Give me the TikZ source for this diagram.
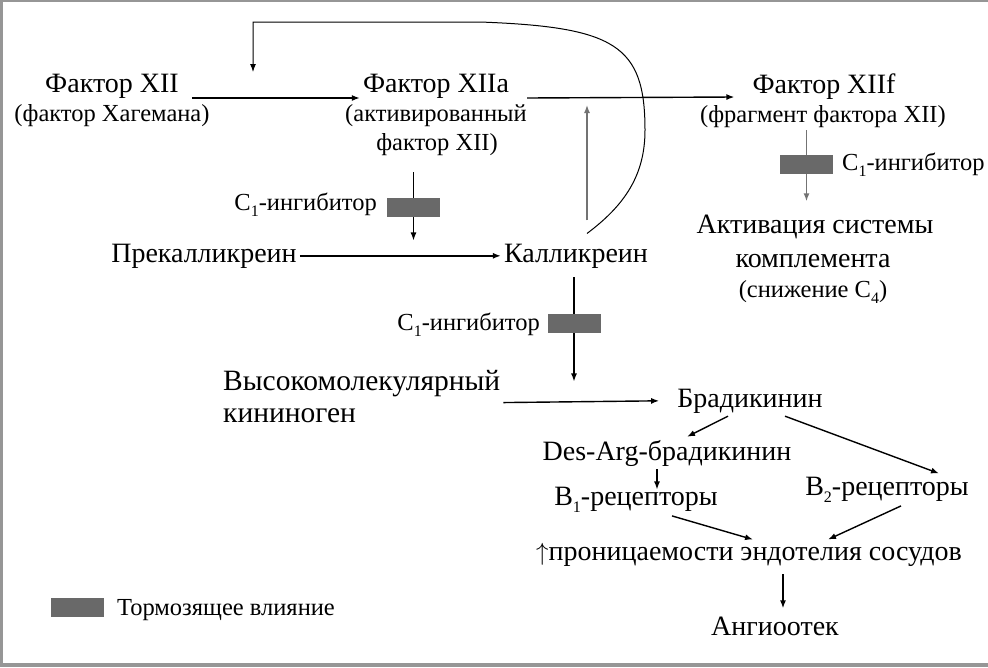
\documentclass[tikz,border=0pt]{standalone}
\usepackage{fontspec}
\setmainfont{Liberation Serif}
\usetikzlibrary{arrows.meta,positioning,calc}
\definecolor{blockgray}{RGB}{105,105,105}
\definecolor{framegray}{RGB}{150,150,150}
\pgfdeclarelayer{bg}
\pgfsetlayers{bg,main}
\newcommand{\lowidx}[1]{\raisebox{-0.6ex}{\fontsize{16}{16}\selectfont #1}}
\tikzset{
  lbl/.style={inner sep=3pt, anchor=base, font=\fontsize{28}{32}\selectfont},
  sublbl/.style={inner sep=3pt, anchor=base, font=\fontsize{24.5}{28}\selectfont},
  blocker/.style={fill=blockgray, minimum width=53pt, minimum height=19pt, inner sep=0pt},
  arr/.style={line width=1.4pt, -{Latex[length=8pt,width=6pt]}},
  grayarr/.style={arr, draw=black!55},
}

\begin{document}
\begin{tikzpicture}[x=1pt,y=-1pt]
    % frame
    \useasboundingbox (0,0) rectangle (988,667);
    \fill[framegray] (0,0) rectangle (3,667);
    \fill[framegray] (0,0) rectangle (988,1.5);
    \fill[framegray] (0,663) rectangle (988,667);

    % factor XII chain
    \node[lbl] (f12) at (112,92) {Фактор XII};
    \node[sublbl] (f12sub) at (112,121) {(фактор Хагемана)};
    \node[lbl] (f12a) at (436,92) {Фактор XIIa};
    \node[sublbl] (f12asub) at (436,121) {(активированный};
    \node[sublbl] (f12asub2) at (437,150) {фактор XII)};
    \node[lbl] (f12f) at (824,93) {Фактор XIIf};
    \node[sublbl] (f12fsub) at (823,122) {(фрагмент фактора XII)};
    \node[lbl] (act) at (815,233) {Активация системы};
    \node[lbl] (act2) at (813,267) {комплемента};
    \node[sublbl] (act3) at (813,297) {(снижение C\lowidx{4})};

    % kallikrein chain
    \node[lbl] (prekal) at (204,262) {Прекалликреин};
    \node[lbl] (kal) at (576,262) {Калликреин};
    \node[lbl, anchor=base west, font=\fontsize{29.5}{32}\selectfont] (hmwk) at (220,390) {Высокомолекулярный};
    \node[lbl, anchor=base west, font=\fontsize{29.5}{32}\selectfont] (hmwk2) at (220,422) {кининоген};
    \node[lbl] (brad) at (750,407) {Брадикинин};
    \node[lbl] (desarg) at (667,460) {Des-Arg-брадикинин};
    \node[lbl] (b1) at (636,505) {B\lowidx{1}-рецепторы};
    \node[lbl] (b2) at (887,495) {B\lowidx{2}-рецепторы};
    \node[lbl] (perm) at (749,560) {$\uparrow$проницаемости эндотелия сосудов};
    \node[lbl] (angio) at (775,635) {Ангиоотек};

    % inhibitors
    \node[blocker] (blk1) at (413.5,207.5) {};
    \node[sublbl, anchor=base east] (inh1) at (380,210) {C\lowidx{1}-ингибитор};
    \node[blocker] (blk2) at (574,323) {};
    \node[sublbl, anchor=base east] (inh2) at (543,330) {C\lowidx{1}-ингибитор};
    \node[blocker] (blk3) at (806.5,164) {};
    \node[sublbl, anchor=base west] (inh3) at (839,170) {C\lowidx{1}-ингибитор};

    % legend
    \node[blocker] (legblk) at (77,607.5) {};
    \node[sublbl, anchor=base west] (legtxt) at (114,615) {Тормозящее влияние};

    \coordinate (fb) at (253,72);
    \coordinate (hit) at (587,105);

    \draw[arr] ([xshift=10pt,yshift=-6pt]f12.base east) -- ([yshift=-6pt]f12a.base west);
    \draw[arr] ([xshift=15pt,yshift=-6pt]f12a.base east) -- ([xshift=-15pt,yshift=-4pt]f12f.base west);
    \draw[arr, line width=1pt] ([xshift=11pt,yshift=7pt]kal.north) .. controls (625,205) and (645,175) .. (645,130)
        .. controls (645,45) and (615,27) .. (480,22) -- (253,22) -- (fb);
    \draw[grayarr] ([xshift=11pt,yshift=20pt]kal.north) -- (hit);
    \draw[arr] (prekal.east) -- (kal.west);
    \draw[arr] ([yshift=-3pt]hmwk.south east) -- ([xshift=-15pt]brad.west);
    \draw[arr] ([xshift=-22pt]brad.south) -- ([xshift=20pt]desarg.north);
    \draw[arr] ([xshift=35pt]brad.south) -- ([xshift=52pt]b2.north);
    \draw[arr] ([xshift=-10pt]desarg.south) -- ([xshift=21pt,yshift=-6pt]b1.north);
    \draw[arr] ([xshift=36pt]b1.south) -- ([xshift=4pt]perm.north);
    \draw[arr] ([xshift=14pt]b2.south) -- ([xshift=79pt]perm.north);
    \draw[arr, shorten <=5pt, shorten >=5pt] ([xshift=34pt]perm.south) -- ([xshift=8pt]angio.north);

    \begin{pgfonlayer}{bg}
        \draw[arr, shorten <=14pt] (blk1 |- f12asub2.south) -- (blk1 |- prekal.north);
        \draw[arr, shorten <=6pt, shorten >=4pt] (blk2 |- kal.south) -- (blk2 |- brad.north);
        \draw[grayarr, shorten >=10pt] (blk3 |- f12fsub.south) -- (blk3 |- act.north);
    \end{pgfonlayer}
\end{tikzpicture}
\end{document}
